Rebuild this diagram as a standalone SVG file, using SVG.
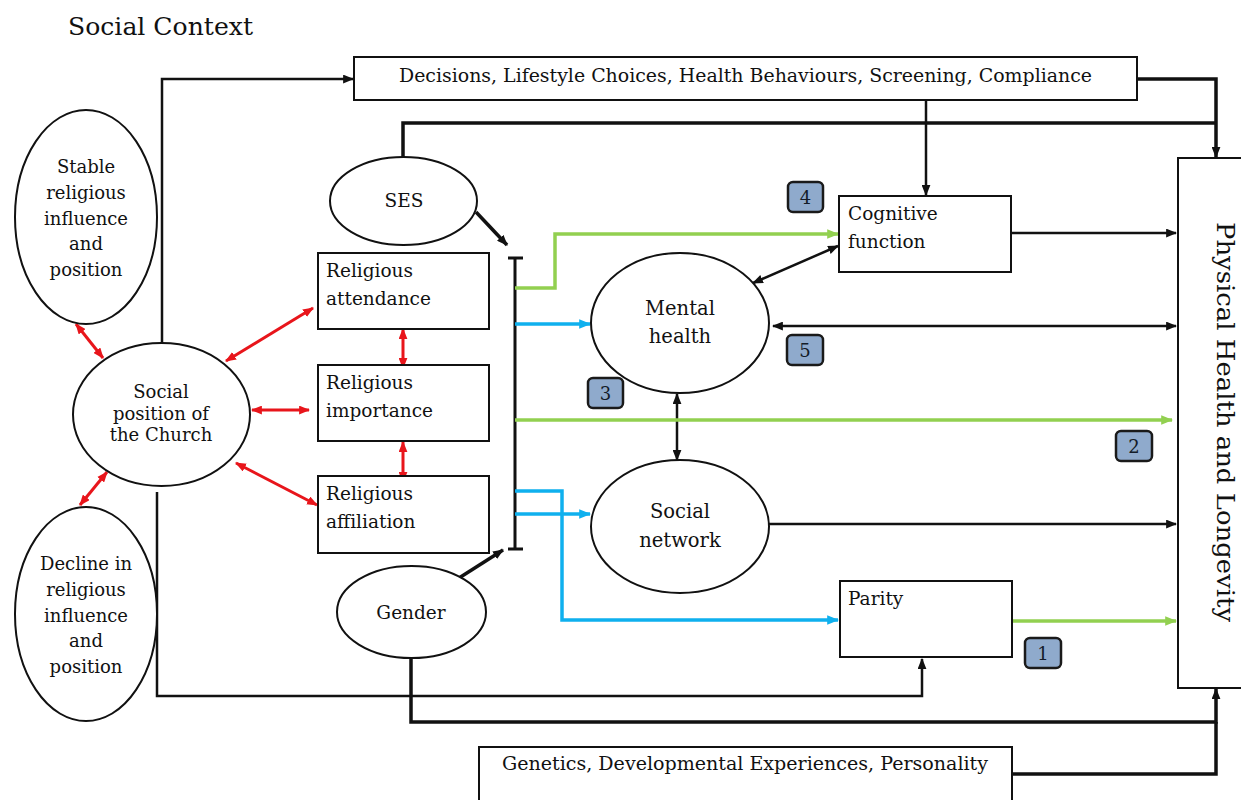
<svg xmlns="http://www.w3.org/2000/svg" width="1241" height="800" viewBox="0 0 1241 800">
  <style>
    text { font-family: "DejaVu Serif", "Liberation Serif", serif; fill: #111; }
    .box { fill: #fff; stroke: #111; stroke-width: 2; }
    .node { fill: #fff; stroke: #111; stroke-width: 2; }
    .lbl { font-size: 18.5px; }
    .ell { font-size: 18px; text-anchor: middle; }
    .ell2 { font-size: 19.5px; text-anchor: middle; }
    .badge rect { fill: #8faacc; stroke: #1a1a1a; stroke-width: 2.5; }
    .badge text { font-size: 18px; text-anchor: middle; fill: #141c28; }
    .k { fill: none; stroke: #111; stroke-width: 2.5; }
    .k3 { fill: none; stroke: #111; stroke-width: 3.5; }
    .r { fill: none; stroke: #e8151b; stroke-width: 3; }
    .g { fill: none; stroke: #92d050; stroke-width: 3.5; }
    .b { fill: none; stroke: #0fb0ee; stroke-width: 3.5; }
  </style>
  <defs>
    <marker id="ak" viewBox="0 0 10 8" refX="9" refY="4" markerWidth="11" markerHeight="9" markerUnits="userSpaceOnUse" orient="auto-start-reverse">
      <path d="M0,0 L10,4 L0,8 z" fill="#111"/>
    </marker>
    <marker id="ar" viewBox="0 0 10 8" refX="9" refY="4" markerWidth="11" markerHeight="9" markerUnits="userSpaceOnUse" orient="auto-start-reverse">
      <path d="M0,0 L10,4 L0,8 z" fill="#e8151b"/>
    </marker>
    <marker id="ag" viewBox="0 0 10 8" refX="9" refY="4" markerWidth="12" markerHeight="10" markerUnits="userSpaceOnUse" orient="auto-start-reverse">
      <path d="M0,0 L10,4 L0,8 z" fill="#92d050"/>
    </marker>
    <marker id="ab" viewBox="0 0 10 8" refX="9" refY="4" markerWidth="12" markerHeight="10" markerUnits="userSpaceOnUse" orient="auto-start-reverse">
      <path d="M0,0 L10,4 L0,8 z" fill="#0fb0ee"/>
    </marker>
  </defs>

  <rect width="1241" height="800" fill="#fff"/>

  <text x="68" y="35" font-size="25" textLength="185" lengthAdjust="spacingAndGlyphs">Social Context</text>

  <!-- connectors -->
  <g id="connectors">
    <!-- black paths -->
    <path class="k" d="M162,343 V79 H353" marker-end="url(#ak)"/>
    <path class="k3" d="M1137,79 H1216 V157" marker-end="url(#ak)"/>
    <path class="k3" d="M403,157 V123 H1216"/>
    <path class="k" d="M926,100 V195" marker-end="url(#ak)"/>
    <path class="k3" d="M476,212 L507,245" marker-end="url(#ak)"/>
    <path class="k3" d="M459,578 L503,550" marker-end="url(#ak)"/>
    <path class="k" d="M1012,233 H1176" marker-end="url(#ak)"/>
    <path class="k" d="M773,326 H1176" marker-start="url(#ak)" marker-end="url(#ak)"/>
    <path class="k" d="M753,283 L838,246" marker-start="url(#ak)" marker-end="url(#ak)"/>
    <path class="k" d="M677,394 V460" marker-start="url(#ak)" marker-end="url(#ak)"/>
    <path class="k" d="M769,524 H1176" marker-end="url(#ak)"/>
    <path class="k" d="M157,492 V696 H922 V659" marker-end="url(#ak)"/>
    <path class="k3" d="M411,658 V722 H1216 V689" marker-end="url(#ak)"/>
    <path class="k3" d="M1012,774 H1216 V722"/>

    <!-- bracket -->
    <path class="k3" d="M515,258 V549 M508,258 H523 M508,549 H523" style="stroke-width:3"/>

    <!-- green paths -->
    <path class="g" d="M515,288 H555 V234 H838" marker-end="url(#ag)"/>
    <path class="g" d="M515,420 H1172" marker-end="url(#ag)"/>
    <path class="g" d="M1012,621 H1176" marker-end="url(#ag)"/>

    <!-- blue paths -->
    <path class="b" d="M515,324 H590" marker-end="url(#ab)"/>
    <path class="b" d="M515,514 H590" marker-end="url(#ab)"/>
    <path class="b" d="M515,491 H562 V620 H838" marker-end="url(#ab)"/>

    <!-- red two-way paths -->
    <path class="r" d="M76,324 L103,358" marker-start="url(#ar)" marker-end="url(#ar)"/>
    <path class="r" d="M107,472 L80,505" marker-start="url(#ar)" marker-end="url(#ar)"/>
    <path class="r" d="M226,361 L313,308" marker-start="url(#ar)" marker-end="url(#ar)"/>
    <path class="r" d="M252,410 H309" marker-start="url(#ar)" marker-end="url(#ar)"/>
    <path class="r" d="M236,463 L317,505" marker-start="url(#ar)" marker-end="url(#ar)"/>
    <path class="r" d="M403,329 V368" marker-start="url(#ar)" marker-end="url(#ar)"/>
    <path class="r" d="M403,442 V482" marker-start="url(#ar)" marker-end="url(#ar)"/>
  </g>

  <!-- nodes -->
  <g id="decisions">
    <rect class="box" x="354" y="57" width="783" height="43"/>
    <text x="399" y="82" font-size="18" textLength="693" lengthAdjust="spacingAndGlyphs">Decisions, Lifestyle Choices, Health Behaviours, Screening, Compliance</text>
  </g>

  <g id="stable">
    <ellipse class="node" cx="86" cy="217" rx="71" ry="107"/>
    <text class="ell" x="86" y="173">Stable</text>
    <text class="ell" x="86" y="199">religious</text>
    <text class="ell" x="86" y="225">influence</text>
    <text class="ell" x="86" y="250">and</text>
    <text class="ell" x="86" y="276">position</text>
  </g>

  <g id="decline">
    <ellipse class="node" cx="86" cy="614" rx="71" ry="107"/>
    <text class="ell" x="86" y="570">Decline in</text>
    <text class="ell" x="86" y="596">religious</text>
    <text class="ell" x="86" y="622">influence</text>
    <text class="ell" x="86" y="647">and</text>
    <text class="ell" x="86" y="673">position</text>
  </g>

  <g id="social-position">
    <ellipse class="node" cx="161.5" cy="414.5" rx="88.5" ry="71.5"/>
    <text class="ell" x="161" y="398">Social</text>
    <text class="ell" x="161" y="420">position of</text>
    <text class="ell" x="161" y="441">the Church</text>
  </g>

  <g id="ses">
    <ellipse class="node" cx="403.5" cy="201" rx="73.5" ry="44"/>
    <text class="ell" x="404" y="207" style="font-size:18.5px">SES</text>
  </g>

  <g id="gender">
    <ellipse class="node" cx="411.5" cy="612" rx="74.5" ry="46"/>
    <text class="ell" x="411" y="619" style="font-size:18.5px">Gender</text>
  </g>

  <g id="attendance">
    <rect class="box" x="318" y="253" width="171" height="76"/>
    <text class="lbl" x="326" y="277">Religious</text>
    <text class="lbl" x="326" y="305">attendance</text>
  </g>

  <g id="importance">
    <rect class="box" x="318" y="365" width="171" height="76"/>
    <text class="lbl" x="326" y="389">Religious</text>
    <text class="lbl" x="326" y="417">importance</text>
  </g>

  <g id="affiliation">
    <rect class="box" x="318" y="476" width="171" height="77"/>
    <text class="lbl" x="326" y="500">Religious</text>
    <text class="lbl" x="326" y="528">affiliation</text>
  </g>

  <g id="mental-health">
    <ellipse class="node" cx="680" cy="323" rx="89" ry="70"/>
    <text class="ell2" x="680" y="315">Mental</text>
    <text class="ell2" x="680" y="343">health</text>
  </g>

  <g id="social-network">
    <ellipse class="node" cx="680" cy="526.5" rx="89" ry="66.5"/>
    <text class="ell2" x="680" y="518">Social</text>
    <text class="ell2" x="680" y="547">network</text>
  </g>

  <g id="cognitive">
    <rect class="box" x="839" y="196" width="172" height="76"/>
    <text class="lbl" x="848" y="220">Cognitive</text>
    <text class="lbl" x="848" y="248">function</text>
  </g>

  <g id="parity">
    <rect class="box" x="840" y="581" width="172" height="76"/>
    <text class="lbl" x="848" y="605">Parity</text>
  </g>

  <g id="physical-health">
    <rect class="box" x="1178" y="158" width="80" height="530"/>
    <text transform="translate(1217,422) rotate(90)" font-size="24" text-anchor="middle" textLength="400" lengthAdjust="spacingAndGlyphs">Physical Health and Longevity</text>
  </g>

  <g id="genetics">
    <rect class="box" x="479" y="747" width="533" height="70"/>
    <text x="502" y="770" font-size="18" textLength="486" lengthAdjust="spacingAndGlyphs">Genetics, Developmental Experiences, Personality</text>
  </g>

  <g id="badge-1" class="badge">
    <rect x="1025" y="638" width="36" height="30" rx="5"/>
    <text x="1043" y="660">1</text>
  </g>
  <g id="badge-2" class="badge">
    <rect x="1116" y="431" width="36" height="30" rx="5"/>
    <text x="1134" y="453">2</text>
  </g>
  <g id="badge-3" class="badge">
    <rect x="588" y="378" width="35" height="30" rx="5"/>
    <text x="605.5" y="400">3</text>
  </g>
  <g id="badge-4" class="badge">
    <rect x="788" y="182" width="35" height="30" rx="5"/>
    <text x="805.5" y="204">4</text>
  </g>
  <g id="badge-5" class="badge">
    <rect x="787" y="335" width="36" height="30" rx="5"/>
    <text x="805" y="357">5</text>
  </g>
</svg>
